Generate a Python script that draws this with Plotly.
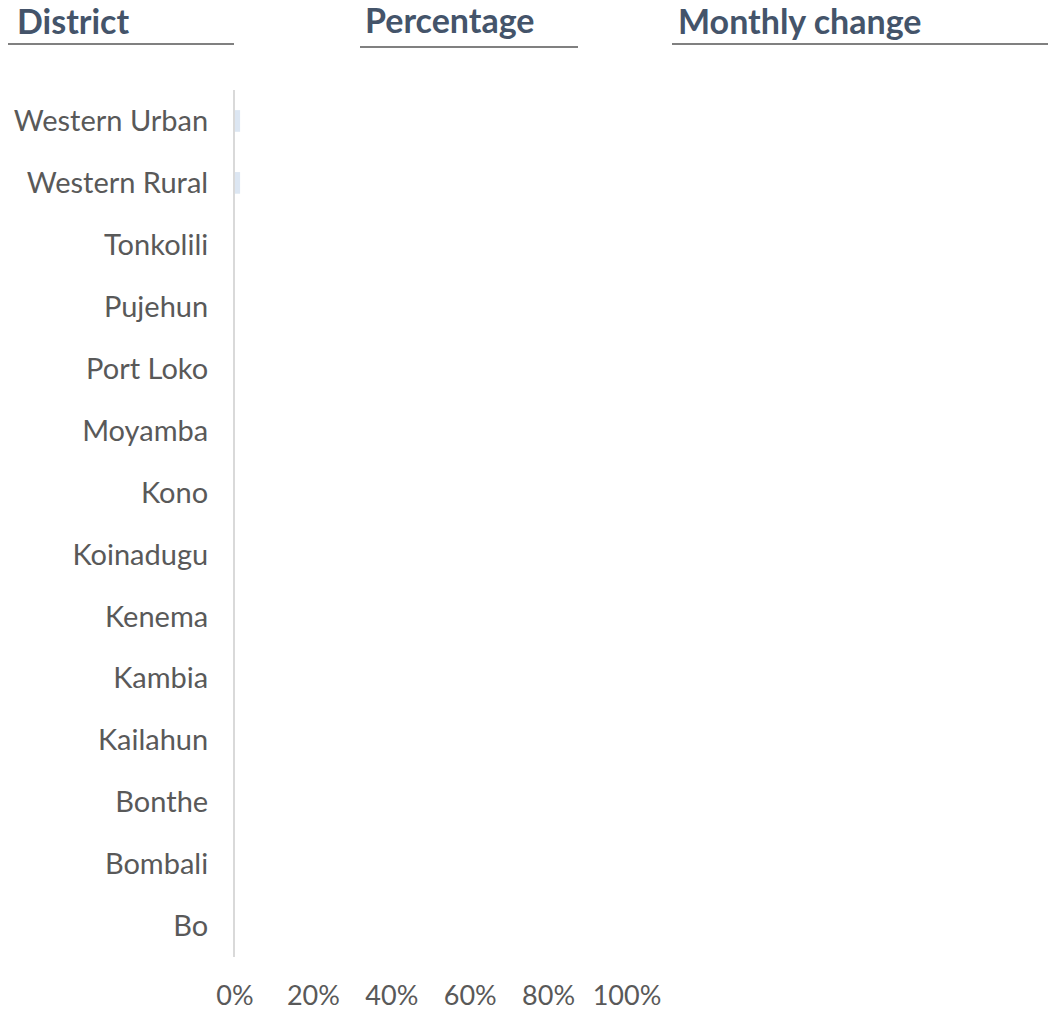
import plotly.graph_objects as go

# ---- data ----
districts = ["Bo", "Bombali", "Bonthe", "Kailahun", "Kambia", "Kenema", "Koinadugu",
             "Kono", "Moyamba", "Port Loko", "Pujehun", "Tonkolili", "Western Rural",
             "Western Urban"]
percentage = [0, 0, 0, 0, 0, 0, 0, 0, 0, 0, 0, 0, 0.013, 0.013]
x_ticks = [0, 0.2, 0.4, 0.6, 0.8, 1.0]
x_tick_labels = ["0%", "20%", "40%", "60%", "80%", "100%"]
headers = ["District", "Percentage", "Monthly change"]

W, H = 1048, 1011
L, R, T, B = 235, 1048 - 627, 90, 1011 - 957
PW, PH = W - L - R, H - T - B

def px(x):
    return (x - L) / PW

def py(y):
    return 1 - (y - T) / PH

FONT = "Lato"
HEAD_COLOR = "#44546a"
TEXT_COLOR = "#595959"

fig = go.Figure(go.Bar(
    y=districts, x=percentage, orientation="h",
    marker=dict(color="#dce6f2", line=dict(width=0)),
    width=0.35, hoverinfo="skip",
))

header_pos = [(15, 21), (363, 19), (676, 21)]
for text, (hx, hy) in zip(headers, header_pos):
    fig.add_annotation(text="<b>%s</b>" % text, xref="paper", yref="paper",
                       x=px(hx), y=py(hy), xanchor="left", yanchor="middle",
                       showarrow=False, font=dict(family=FONT, size=34, color=HEAD_COLOR))

underlines = [(8, 234, 44), (360, 578, 47), (672, 1048, 44)]
for x0, x1, yy in underlines:
    fig.add_shape(type="line", xref="paper", yref="paper",
                  x0=px(x0), x1=px(x1), y0=py(yy), y1=py(yy),
                  line=dict(color="#808080", width=2))

fig.update_layout(
    width=W, height=H,
    margin=dict(l=L, r=R, t=T, b=B, autoexpand=False),
    paper_bgcolor="white", plot_bgcolor="white",
    showlegend=False,
    font=dict(family=FONT, color=TEXT_COLOR, size=29),
)
fig.update_xaxes(range=[0, 1], tickvals=x_ticks, ticktext=x_tick_labels,
                 showgrid=False, zeroline=False, showline=False,
                 ticklabelstandoff=20, automargin=False,
                 tickfont=dict(family=FONT, size=27, color=TEXT_COLOR))
fig.update_yaxes(categoryorder="array", categoryarray=districts,
                 showgrid=False, zeroline=False, showline=True,
                 linecolor="#d9d9d9", linewidth=2,
                 ticklabelstandoff=19, automargin=False,
                 tickfont=dict(family=FONT, size=29, color=TEXT_COLOR))

fig.write_html("out.html", config={"displayModeBar": False},
               post_script="document.body.style.margin='0';document.body.style.overflow='hidden';")
